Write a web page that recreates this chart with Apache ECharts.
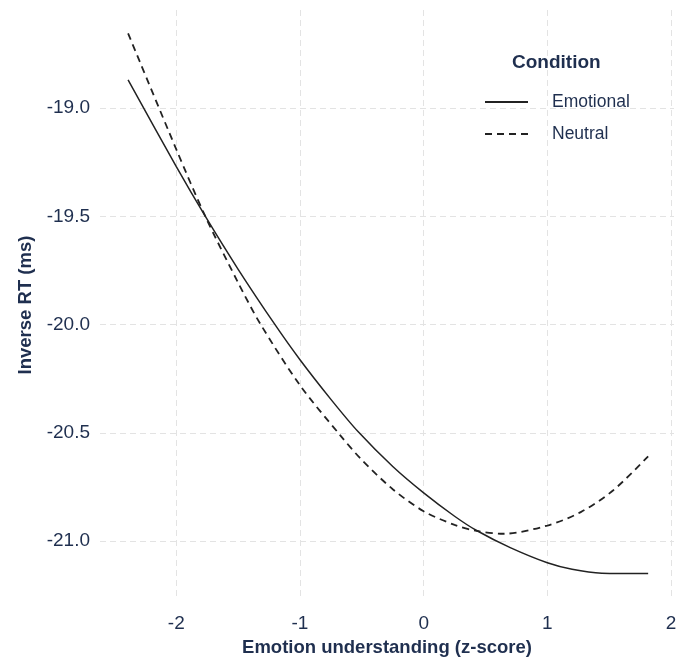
<!DOCTYPE html>
<html>
<head>
<meta charset="utf-8">
<script src="https://cdn.jsdelivr.net/npm/echarts@6/dist/echarts.min.js"></script>
<style>
html,body{margin:0;padding:0;background:#fff;}
#c{width:688px;height:658px;}
</style>
</head>
<body>
<div id="c"></div>
<script>
const seriesNames = ['Emotional', 'Neutral'];
const emotionalX = [-2.39, -2.0, -1.765, -1.5, -1.202, -1.0, -0.75, -0.529, -0.25, 0, 0.25, 0.428, 0.7, 1.0, 1.2, 1.44, 1.6, 1.815];
const emotionalY = [-18.869, -19.27, -19.50, -19.744, -20.0, -20.162, -20.345, -20.495, -20.655, -20.777, -20.885, -20.951, -21.03, -21.10, -21.13, -21.148, -21.149, -21.149];
const neutralX = [-2.39, -2.0, -1.765, -1.5, -1.322, -1.0, -0.676, -0.5, -0.25, 0, 0.25, 0.428, 0.644, 1.0, 1.27, 1.533, 1.815];
const neutralY = [-18.654, -19.19, -19.50, -19.806, -19.995, -20.28, -20.51, -20.625, -20.76, -20.862, -20.925, -20.953, -20.966, -20.928, -20.866, -20.765, -20.608];
const xTicks = [-2, -1, 0, 1, 2];
const yTicks = [-21.0, -20.5, -20.0, -19.5, -19.0];

const textColor = '#1f2f4f';
const font = 'Liberation Sans, Arial, sans-serif';
const gridLine = {show: true, lineStyle: {color: '#e3e3e3', type: [6, 4], width: 1}};

const chart = echarts.init(document.getElementById('c'));
chart.setOption({
  backgroundColor: '#fff',
  animation: false,
  title: {
    text: 'Condition', left: 507, top: 48,
    textStyle: {fontFamily: font, fontSize: 19, fontWeight: 'bold', color: textColor}
  },
  legend: {
    orient: 'vertical', left: 479, top: 88,
    itemWidth: 43, itemHeight: 14, itemGap: 14,
    data: seriesNames,
    itemStyle: {opacity: 0},
    textStyle: {fontFamily: font, fontSize: 17.5, color: textColor, padding: [0, 0, 0, 19]}
  },
  grid: {left: 100, right: 14, top: 10, bottom: 58, containLabel: false, outerBoundsMode: 'none'},
  xAxis: {
    type: 'value', min: -2.617, max: 2.024,
    name: 'Emotion understanding (z-score)', nameLocation: 'middle', nameGap: 38,
    nameTextStyle: {fontFamily: font, fontSize: 18.5, fontWeight: 'bold', color: textColor},
    axisLine: {show: false}, axisTick: {show: false, customValues: xTicks},
    axisLabel: {customValues: xTicks, fontFamily: font, fontSize: 19, color: textColor, margin: 14},
    splitLine: gridLine
  },
  yAxis: {
    type: 'value', min: -21.272, max: -18.546,
    name: 'Inverse RT (ms)', nameLocation: 'middle', nameGap: 65,
    nameTextStyle: {fontFamily: font, fontSize: 18.5, fontWeight: 'bold', color: textColor},
    axisLine: {show: false}, axisTick: {show: false, customValues: yTicks},
    axisLabel: {customValues: yTicks, fontFamily: font, fontSize: 19, color: textColor, margin: 10,
      formatter: v => v.toFixed(1)},
    splitLine: gridLine
  },
  series: [
    {
      name: seriesNames[0], type: 'line', symbol: 'none', smooth: 0.3,
      data: emotionalX.map((x, i) => [x, emotionalY[i]]),
      lineStyle: {color: '#222', width: 1.5, type: 'solid'},
      itemStyle: {color: '#222'}
    },
    {
      name: seriesNames[1], type: 'line', symbol: 'none', smooth: 0.3,
      data: neutralX.map((x, i) => [x, neutralY[i]]),
      lineStyle: {color: '#222', width: 1.8, type: [7, 5]},
      itemStyle: {color: '#222'}
    }
  ]
});
</script>
</body>
</html>
